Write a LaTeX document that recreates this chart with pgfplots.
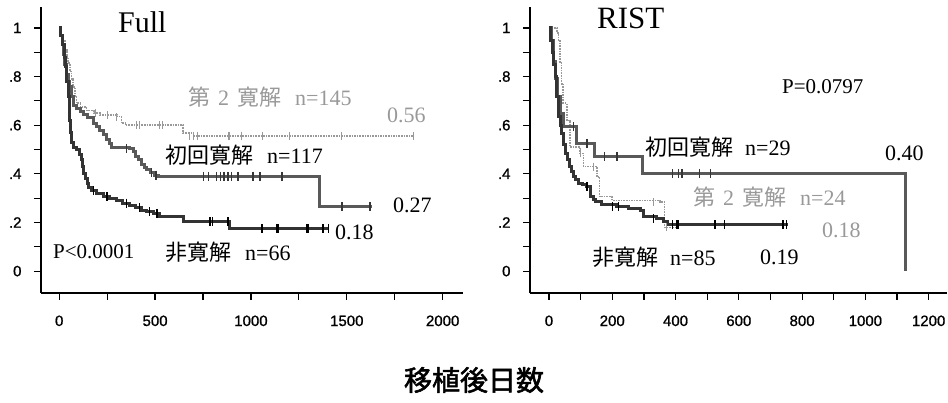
\documentclass[border=0pt]{standalone}
\usepackage{pgfplots}
\pgfplotsset{compat=1.18}
\usepackage{fontspec}
\setmainfont{Liberation Serif}
\newfontfamily\jp{Noto Sans CJK JP}
\newfontfamily\jpb[FakeBold=2]{Noto Sans CJK JP}
\newfontfamily\tickf[FakeBold=1]{Liberation Sans}
\definecolor{lgray}{gray}{0.6}
\definecolor{dgray}{gray}{0.35}
\pgfplotsset{
  kmaxis/.style={
    scale only axis, height=286pt,
    ymin=-0.09, ymax=1.086,
    axis x line*=bottom, axis y line*=left,
    axis line style={line width=1.6pt,-},
    tick align=outside, major tick length=7pt,
    tick style={line width=1.2pt,black},
    ytick={0,0.1,0.2,0.3,0.4,0.5,0.6,0.7,0.8,0.9,1},
    yticklabels={0,,.2,,.4,,.6,,.8,,1},
    tick label style={font=\tickf\fontsize{15}{15}\selectfont},
    /pgf/number format/assume math mode=true,
    xticklabel style={yshift=-12pt},
    yticklabel style={xshift=-9pt},
    clip=false,
  },
  g1/.style={const plot, line width=3pt, color=black!80, no marks},
  g2/.style={const plot, line width=3pt, color=dgray, no marks},
  g3/.style={const plot, line width=1.6pt, color=lgray, densely dotted, no marks},
  c1/.style={only marks, mark=|, mark size=4.5pt, mark options={line width=1.3pt, color=black}},
  c2/.style={only marks, mark=|, mark size=4.5pt, mark options={line width=1.3pt, color=dgray!60!black}},
  c3/.style={only marks, mark=|, mark size=4pt, mark options={line width=0.8pt, color=lgray}},
}
\begin{document}
\begin{tikzpicture}[x=1pt,y=1pt]
\useasboundingbox (0,0) rectangle (948,403);
% ---------------- Left: Full
\begin{axis}[kmaxis, at={(41pt,110pt)}, anchor=south west,
  width=422pt, xmin=-95, xmax=2106,
  xtick={0,250,500,750,1000,1250,1500,1750,2000},
  xticklabels={0,,500,,1000,,1500,,2000}]
\addplot[g3] coordinates {(0,1)(10,0.97)(20,0.95)(30,0.91)(40,0.88)(47,0.855)(55,0.82)(65,0.79)(73,0.758)(82,0.72)(90,0.69)(110,0.675)(143,0.66)(180,0.65)(212,0.642)(300,0.635)(325,0.608)(345,0.60)(647,0.567)(700,0.556)(1847,0.556)};
\addplot[c3] coordinates {(190,0.65)(250,0.642)(300,0.635)(400,0.60)(420,0.60)(520,0.60)(540,0.60)(680,0.556)(700,0.556)(720,0.556)(880,0.556)(890,0.556)(950,0.556)(1060,0.556)(1200,0.556)(1470,0.556)(1847,0.556)};
\addplot[g2] coordinates {(0,1)(8,0.97)(15,0.93)(22,0.89)(30,0.85)(38,0.81)(47,0.78)(56,0.76)(65,0.72)(75,0.68)(90,0.67)(110,0.655)(125,0.645)(150,0.63)(178,0.608)(195,0.595)(212,0.58)(230,0.56)(247,0.54)(260,0.525)(273,0.51)(369,0.505)(385,0.49)(400,0.47)(412,0.457)(430,0.44)(445,0.425)(456,0.416)(475,0.405)(499,0.395)(520,0.39)(1360,0.265)(1630,0.265)};
\addplot[c2] coordinates {(350,0.505)(480,0.405)(505,0.395)(751,0.39)(777,0.39)(822,0.39)(840,0.39)(860,0.39)(880,0.39)(900,0.39)(933,0.39)(1010,0.39)(1047,0.39)(1162,0.39)(1475,0.265)(1621,0.265)};
\addplot[g1] coordinates {(0,1)(5,0.97)(15,0.93)(25,0.88)(32,0.84)(40,0.78)(47,0.72)(52,0.66)(56,0.62)(60,0.57)(64,0.53)(75,0.51)(90,0.50)(105,0.48)(117,0.46)(122,0.43)(125,0.40)(135,0.38)(145,0.36)(152,0.345)(170,0.33)(195,0.32)(230,0.305)(260,0.30)(300,0.29)(330,0.28)(369,0.27)(400,0.26)(430,0.25)(456,0.244)(490,0.235)(525,0.223)(647,0.203)(890,0.176)(1403,0.176)};
\addplot[c1] coordinates {(180,0.33)(250,0.305)(350,0.28)(420,0.26)(470,0.244)(510,0.235)(786,0.203)(800,0.203)(880,0.203)(1058,0.176)(1136,0.176)(1141,0.176)(1292,0.176)(1300,0.176)(1376,0.176)(1403,0.176)};
\end{axis}
% ---------------- Right: RIST
\begin{axis}[kmaxis, at={(530pt,110pt)}, anchor=south west,
  width=417pt, xmin=-60, xmax=1258,
  xtick={0,100,200,300,400,500,600,700,800,900,1000,1100,1200},
  xticklabels={0,,200,,400,,600,,800,,1000,,1200}]
\addplot[g3] coordinates {(0,1)(25,0.98)(30,0.95)(35,0.855)(40,0.77)(45,0.69)(56,0.62)(66,0.51)(98,0.484)(109,0.43)(151,0.388)(160,0.306)(200,0.29)(351,0.285)(365,0.18)(400,0.18)};
\addplot[c3] coordinates {(100,0.484)(140,0.43)(330,0.285)(370,0.18)};
\addplot[g2] coordinates {(0,1)(8,0.95)(15,0.86)(20,0.79)(28,0.72)(35,0.65)(45,0.594)(88,0.525)(143,0.47)(295,0.40)(1126,0)};
\addplot[c2] coordinates {(77,0.594)(120,0.525)(175,0.47)(215,0.47)(390,0.40)(410,0.40)(420,0.40)(475,0.40)(510,0.40)};
\addplot[g1] coordinates {(0,1)(5,0.95)(10,0.9)(15,0.85)(19,0.80)(25,0.72)(30,0.635)(35,0.60)(40,0.567)(46,0.52)(51,0.484)(58,0.46)(66,0.43)(72,0.41)(77,0.388)(85,0.375)(93,0.361)(105,0.355)(119,0.347)(130,0.306)(140,0.295)(146,0.285)(167,0.272)(214,0.265)(250,0.258)(288,0.251)(298,0.223)(341,0.217)(362,0.203)(373,0.19)(757,0.19)};
\addplot[c1] coordinates {(120,0.347)(200,0.265)(220,0.265)(330,0.217)(390,0.19)(405,0.19)(410,0.19)(525,0.19)(555,0.19)(740,0.19)(750,0.19)};
\end{axis}
% ---------------- Texts
\node[anchor=west, inner sep=0pt, font=\fontsize{30}{30}\selectfont] at (118,381) {Full};
\node[anchor=west, inner sep=0pt, font=\fontsize{31}{31}\selectfont] at (597,385) {RIST};
\begin{scope}[every node/.style={anchor=west, inner sep=0pt, font=\fontsize{22}{22}\selectfont}]
% left
\node[text=lgray] at (188,306) {{\jp 第}\hspace{8pt}2\hspace{8pt}{\jp 寛解}\hspace{14pt}n=145};
\node[text=lgray] at (387,288) {0.56};
\node at (165,248) {{\jp 初回寛解}\hspace{14pt}n=117};
\node at (393,198) {0.27};
\node at (335,171) {0.18};
\node[font=\fontsize{21}{21}\selectfont] at (53,151) {P<0.0001};
\node at (165,151) {{\jp 非寛解}\hspace{14pt}n=66};
% right
\node[font=\fontsize{21}{21}\selectfont] at (782,316) {P=0.0797};
\node at (645,256) {{\jp 初回寛解}\hspace{12pt}n=29};
\node at (885,250) {0.40};
\node[text=lgray] at (693,206) {{\jp 第}\hspace{8pt}2\hspace{8pt}{\jp 寛解}\hspace{14pt}n=24};
\node[text=lgray] at (822,173) {0.18};
\node at (592,146) {{\jp 非寛解}\hspace{12pt}n=85};
\node at (760,146) {0.19};
\end{scope}
\node[inner sep=0pt, font=\jpb\fontsize{28}{28}\selectfont] at (474,23) {移植後日数};
\end{tikzpicture}
\end{document}
